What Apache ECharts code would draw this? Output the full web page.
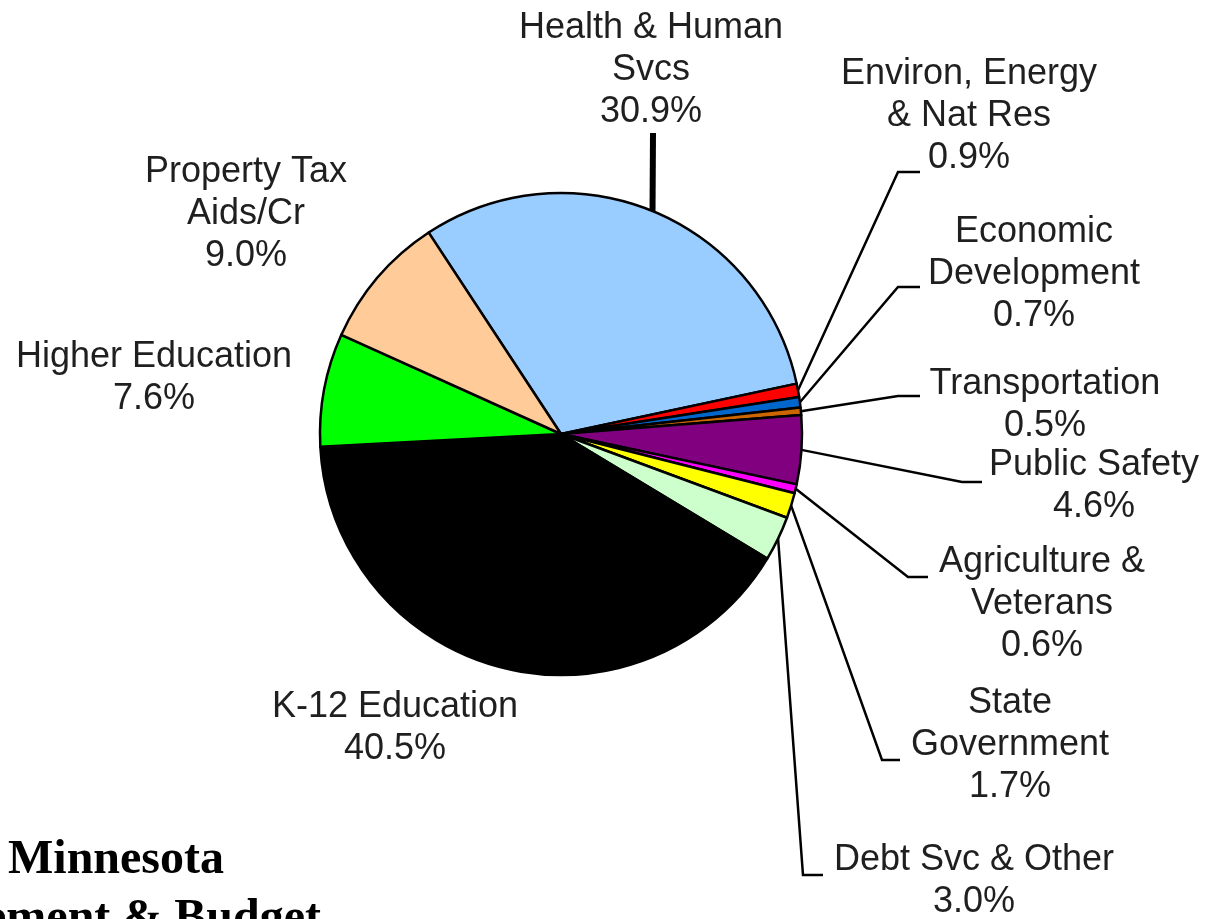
<!DOCTYPE html>
<html>
<head>
<meta charset="utf-8">
<title>General Fund Spending by Area</title>
<script src="https://cdn.jsdelivr.net/npm/echarts@6/dist/echarts.min.js"></script>
<style>
  html, body { margin: 0; padding: 0; background: #ffffff; }
  #chart { width: 1205px; height: 919px; }
</style>
</head>
<body>
<div id="chart"></div>
<script>
// Spending areas, in clockwise order starting with Health & Human Services
const categories = [
  'Health & Human\nSvcs',
  'Environ, Energy\n& Nat Res',
  'Economic\nDevelopment',
  'Transportation',
  'Public Safety',
  'Agriculture &\nVeterans',
  'State\nGovernment',
  'Debt Svc & Other',
  'K-12 Education',
  'Higher Education',
  'Property Tax\nAids/Cr'
];

// Share of total spending, percent
const shares = [30.9, 0.9, 0.7, 0.5, 4.6, 0.6, 1.7, 3.0, 40.5, 7.6, 9.0];

const sliceColors = [
  '#99CCFF', '#FF0000', '#0066CC', '#CC6600', '#800080', '#FF00FF',
  '#FFFF00', '#CCFFCC', '#000000', '#00FF00', '#FFCC99'
];

// Label placement: centre of each text block, and the bend/end of its leader line
const labelPlacement = [
  { at: [651, 70],   line: [[653, 133], [653, 133]], lineWidth: 6 },
  { at: [969, 116],  line: [[898, 172], [920, 172]] },
  { at: [1034, 274], line: [[898, 287], [920, 287]] },
  { at: [1045, 405], line: [[898, 396], [920, 396]] },
  { at: [1094, 486], line: [[962, 482], [982, 482]] },
  { at: [1042, 604], line: [[908, 577], [928, 577]] },
  { at: [1010, 745], line: [[882, 760], [900, 760]] },
  { at: [974, 881],  line: [[803, 875], [823, 875]] },
  { at: [395, 728],  line: null },
  { at: [154, 378],  line: null },
  { at: [246, 214],  line: null }
];

const labelFont = 'Liberation Sans, Arial, Helvetica, sans-serif';

const pieData = categories.map((name, i) => {
  const place = labelPlacement[i];
  return {
    name: name,
    value: shares[i],
    itemStyle: { color: sliceColors[i] },
    labelLine: place.line
      ? { show: true, lineStyle: { width: place.lineWidth || 2.5, color: '#000' } }
      : { show: false }
  };
});

const chart = echarts.init(document.getElementById('chart'), null, { renderer: 'canvas' });

chart.setOption({
  animation: false,
  backgroundColor: '#ffffff',
  series: [{
    type: 'pie',
    center: [561, 434],
    radius: 241,
    startAngle: 123.3,
    clockwise: true,
    avoidLabelOverlap: false,
    silent: true,
    data: pieData,
    itemStyle: { borderColor: '#000000', borderWidth: 2.5 },
    label: {
      show: true,
      position: 'outside',
      color: '#1f1f1f',
      fontFamily: labelFont,
      fontSize: 36,
      lineHeight: 42,
      align: 'center',
      formatter: p => p.name + '\n' + p.value.toFixed(1) + '%'
    },
    labelLine: { show: true, length: 10, length2: 10, smooth: false },
    labelLayout: function (params) {
      const place = labelPlacement[params.dataIndex];
      const out = {
        x: place.at[0],
        y: place.at[1],
        align: 'center',
        verticalAlign: 'middle'
      };
      if (place.line && params.labelLinePoints) {
        const start = params.labelLinePoints[0];
        out.labelLinePoints = [start, place.line[0], place.line[1]];
      }
      return out;
    }
  }],
  graphic: [
    {
      type: 'text',
      left: 8,
      top: 837,
      style: {
        text: 'Minnesota',
        font: 'bold 48px "Liberation Serif", "Times New Roman", serif',
        fill: '#000000'
      }
    },
    {
      type: 'text',
      x: 321,
      y: 896,
      style: {
        text: 'Management & Budget',
        font: 'bold 48px "Liberation Serif", "Times New Roman", serif',
        fill: '#000000',
        textAlign: 'right',
        textVerticalAlign: 'top'
      }
    }
  ]
});
</script>
</body>
</html>
